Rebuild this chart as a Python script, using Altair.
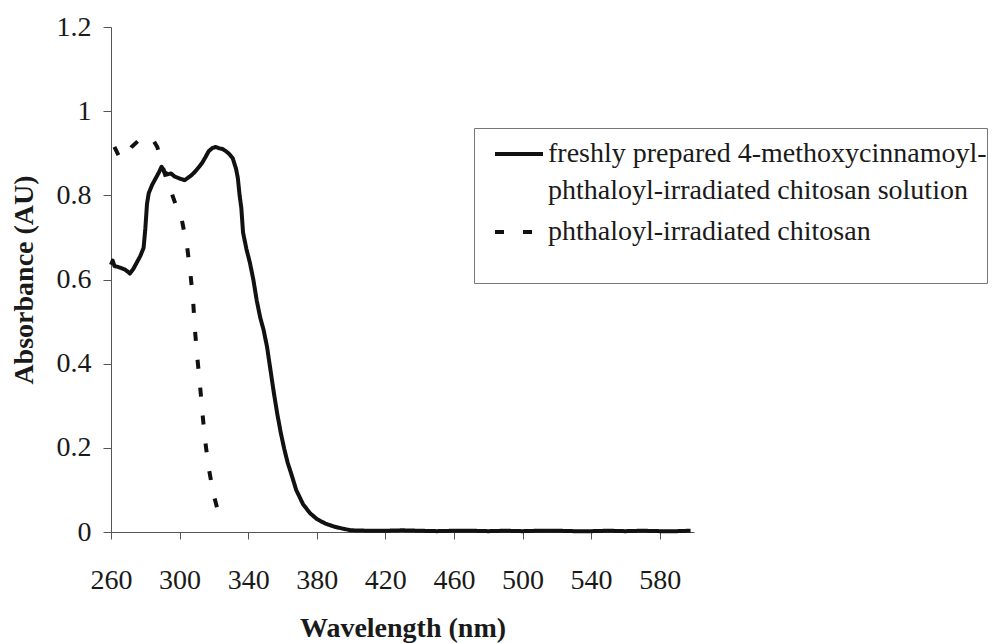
import altair as alt
import pandas as pd

# ---- data ----
solid_wl = [260, 261, 262, 264, 266, 268, 270, 271, 273, 275, 277, 279, 280, 281, 282, 284,
            286, 288, 289.5, 291, 293, 295, 297, 300, 303, 305, 307, 309, 311, 313, 315,
            317, 319, 321, 323, 325, 327, 329, 331, 333, 334, 335, 336, 337, 339, 341,
            343, 345, 347, 349, 351, 353, 355, 357, 359, 361, 363, 365, 368, 372, 376,
            380, 385, 390, 395, 400, 410, 420, 430, 440, 450, 460, 470, 480, 490, 500,
            510, 520, 530, 540, 550, 560, 570, 580, 590, 598]
solid_abs = [0.635, 0.645, 0.632, 0.630, 0.627, 0.624, 0.618, 0.614, 0.625, 0.640, 0.655, 0.675,
             0.720, 0.780, 0.805, 0.825, 0.840, 0.855, 0.868, 0.856, 0.850, 0.852, 0.845,
             0.840, 0.836, 0.842, 0.848, 0.856, 0.866, 0.876, 0.890, 0.905, 0.912, 0.915,
             0.912, 0.910, 0.905, 0.898, 0.888, 0.862, 0.840, 0.800, 0.770, 0.712, 0.672,
             0.640, 0.600, 0.550, 0.510, 0.480, 0.440, 0.385, 0.330, 0.280, 0.236, 0.198,
             0.165, 0.140, 0.100, 0.066, 0.045, 0.031, 0.020, 0.013, 0.008, 0.004, 0.003,
             0.003, 0.004, 0.003, 0.002, 0.003, 0.003, 0.002, 0.003, 0.002, 0.003, 0.003,
             0.002, 0.002, 0.003, 0.002, 0.003, 0.002, 0.002, 0.003]

dashed_wl = [262, 265, 268, 272, 276, 280, 284, 287, 290, 293, 295.3, 298, 301.2, 304.4,
             306.4, 307.9, 308.9, 310.2, 311.8, 313.2, 314.7, 316.7, 319.6, 322, 325]
dashed_abs = [0.915, 0.890, 0.892, 0.915, 0.930, 0.935, 0.935, 0.915, 0.870, 0.830, 0.806,
              0.775, 0.744, 0.678, 0.611, 0.549, 0.483, 0.420, 0.354, 0.288, 0.225, 0.159,
              0.093, 0.055, 0.020]

series_names = ["freshly prepared 4-methoxycinnamoyl-|phthaloyl-irradiated chitosan solution",
                "phthaloyl-irradiated chitosan"]

x_ticks = [260, 300, 340, 380, 420, 460, 500, 540, 580]
y_ticks = [0, 0.2, 0.4, 0.6, 0.8, 1.0, 1.2]

df = pd.concat([
    pd.DataFrame({"wl": solid_wl, "absorb": solid_abs, "series": series_names[0]}),
    pd.DataFrame({"wl": dashed_wl, "absorb": dashed_abs, "series": series_names[1]}),
], ignore_index=True)

FONT = "Liberation Serif"
TXT = "#1a1a1a"

chart = alt.Chart(df).mark_line(color="#111111", strokeWidth=4, strokeCap="butt",
                                strokeJoin="round").encode(
    x=alt.X("wl:Q",
            scale=alt.Scale(domain=[260, 600], nice=False, zero=False),
            axis=alt.Axis(values=x_ticks, title="Wavelength (nm)", grid=False,
                          domainColor="#555555", domainWidth=1, tickColor="#555555",
                          tickSize=7, labelPadding=27, labelFont=FONT, labelFontSize=28,
                          labelColor=TXT, labelFlush=False,
                          titleFont=FONT, titleFontSize=28, titleFontWeight="bold",
                          titleColor=TXT, titlePadding=20)),
    y=alt.Y("absorb:Q",
            scale=alt.Scale(domain=[0, 1.2], nice=False),
            axis=alt.Axis(values=y_ticks, format="~f", title="Absorbance (AU)", grid=False,
                          domainColor="#555555", domainWidth=1, tickColor="#555555",
                          tickSize=8, labelPadding=12, labelFont=FONT, labelFontSize=28,
                          labelColor=TXT, labelFlush=False,
                          titleFont=FONT, titleFontSize=28, titleFontWeight="bold",
                          titleColor=TXT, titlePadding=18)),
    strokeDash=alt.StrokeDash(
        "series:N",
        scale=alt.Scale(domain=series_names, range=[[1, 0], [9, 19]]),
        legend=alt.Legend(title=" ", titleOrient="bottom", titleFontSize=16,
                          titlePadding=21,
                          orient="none", legendX=363, legendY=101,
                          symbolType="stroke", symbolSize=2304, symbolStrokeWidth=4,
                          symbolStrokeColor="#111111", symbolOffset=19,
                          labelFont=FONT, labelFontSize=28,
                          labelColor=TXT, labelLimit=800, labelOffset=3,
                          labelExpr="split(datum.label, '|')",
                          padding=0, rowPadding=1, strokeColor="#777777",
                          fillColor="white")),
).properties(
    width=583, height=505,
    autosize=alt.AutoSizeParams(type="none"),
    padding={"left": 111, "top": 27, "right": 314, "bottom": 111},
).configure(style={"guide-label": {"lineHeight": 37}}).configure_view(stroke=None)

chart.save("out.html", embed_options={"renderer": "svg", "actions": False})
